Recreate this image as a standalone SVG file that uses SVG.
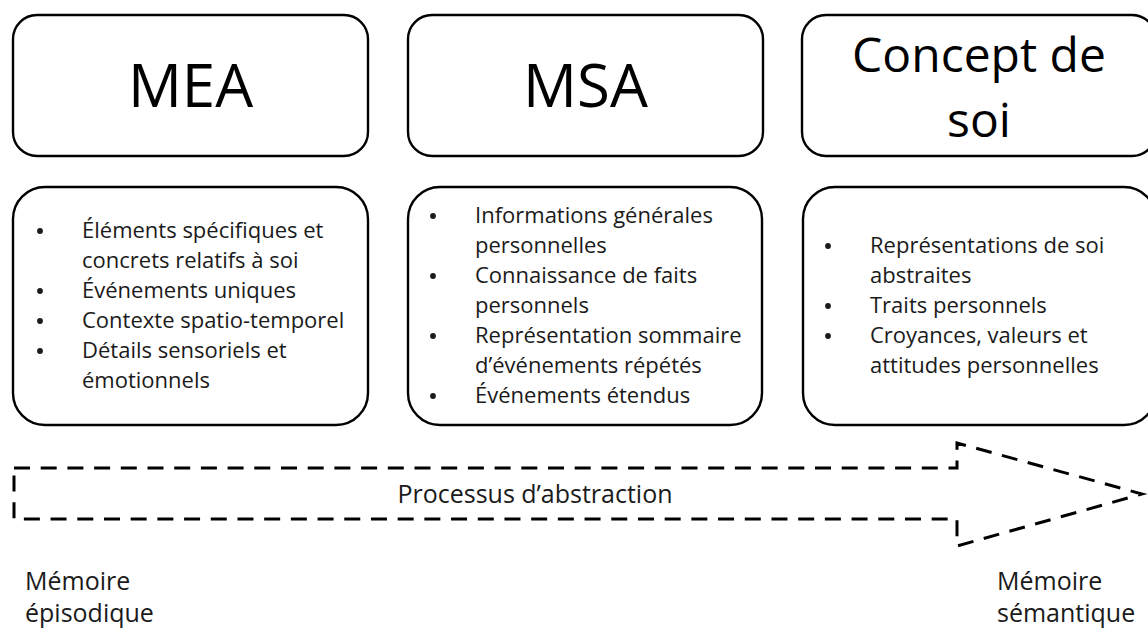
<svg xmlns="http://www.w3.org/2000/svg" width="1148" height="631" viewBox="0 0 1148 631">
<style>
.box{fill:#fff;stroke:#000;stroke-width:2.4}
.title{font-family:"Open Sans","Liberation Sans",sans-serif;fill:#000;text-anchor:middle}
.t{font-family:"Open Sans","Liberation Sans",sans-serif;font-size:22px;fill:#1a1a1a}
.lbl{font-family:"Open Sans","Liberation Sans",sans-serif;font-size:25px;fill:#1a1a1a}
.dash{fill:none;stroke:#000;stroke-width:3;stroke-dasharray:16 10.7}
</style>
<defs><circle id="dot" r="2.9" fill="#1a1a1a"/></defs>
<rect width="1148" height="631" fill="#fff"/>
<g id="mea-title">
<rect class="box" x="13" y="15" width="355" height="141" rx="24"/>
<text class="title" x="190.5" y="107" font-size="60">MEA</text>
</g>
<g id="msa-title">
<rect class="box" x="408" y="15" width="355" height="141" rx="24"/>
<text class="title" x="585.5" y="107" font-size="60">MSA</text>
</g>
<g id="concept-title">
<rect class="box" x="802" y="15" width="354" height="141" rx="24"/>
<text class="title" x="979" y="72" font-size="48">Concept de</text>
<text class="title" x="979" y="137" font-size="48">soi</text>
</g>
<g id="mea-details">
<rect class="box" x="13" y="187" width="355" height="238" rx="32"/>
<use href="#dot" x="40" y="231"/><use href="#dot" x="40" y="291"/><use href="#dot" x="40" y="321"/><use href="#dot" x="40" y="351"/>
<text class="t"><tspan x="82" y="238">Éléments spécifiques et</tspan><tspan x="82" y="268">concrets relatifs à soi</tspan><tspan x="82" y="298">Événements uniques</tspan><tspan x="82" y="328">Contexte spatio-temporel</tspan><tspan x="82" y="358">Détails sensoriels et</tspan><tspan x="82" y="388">émotionnels</tspan></text>
</g>
<g id="msa-details">
<rect class="box" x="408" y="187" width="354" height="238" rx="32"/>
<use href="#dot" x="433" y="216"/><use href="#dot" x="433" y="276"/><use href="#dot" x="433" y="336"/><use href="#dot" x="433" y="396"/>
<text class="t"><tspan x="475" y="223">Informations générales</tspan><tspan x="475" y="253">personnelles</tspan><tspan x="475" y="283">Connaissance de faits</tspan><tspan x="475" y="313">personnels</tspan><tspan x="475" y="343">Représentation sommaire</tspan><tspan x="475" y="373">d’événements répétés</tspan><tspan x="475" y="403">Événements étendus</tspan></text>
</g>
<g id="concept-details">
<rect class="box" x="803" y="187" width="353" height="238" rx="32"/>
<use href="#dot" x="828" y="246"/><use href="#dot" x="828" y="306"/><use href="#dot" x="828" y="336"/>
<text class="t"><tspan x="870" y="253">Représentations de soi</tspan><tspan x="870" y="283">abstraites</tspan><tspan x="870" y="313">Traits personnels</tspan><tspan x="870" y="343">Croyances, valeurs et</tspan><tspan x="870" y="373">attitudes personnelles</tspan></text>
</g>
<g id="connectors">
<g id="abstraction-arrow">
<path class="dash" d="M14 468 H957 V443 L1142 494 L957 546 V519 H14 Z"/>
<text class="lbl" x="535" y="503" text-anchor="middle" font-size="25">Processus d’abstraction</text>
</g>
</g>
<g id="label-episodique">
<text class="lbl"><tspan x="25" y="590">Mémoire</tspan><tspan x="25" y="622">épisodique</tspan></text>
</g>
<g id="label-semantique">
<text class="lbl"><tspan x="997" y="590">Mémoire</tspan><tspan x="997" y="622">sémantique</tspan></text>
</g>
</svg>
